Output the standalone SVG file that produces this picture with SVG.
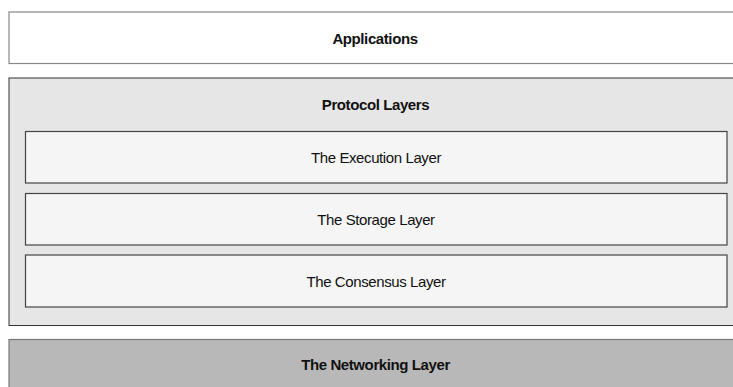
<svg xmlns="http://www.w3.org/2000/svg" width="733" height="387" viewBox="0 0 733 387">
<style>
text{font-family:"Liberation Sans",Arial,sans-serif;font-size:15px;letter-spacing:-0.4px;text-anchor:middle;fill:#111}
.b{font-weight:bold}
.app{fill:#ffffff;stroke:#888888;stroke-width:1.2}
.proto{fill:#e6e6e6;stroke:#333333;stroke-width:1}
.inner{fill:#f5f5f5;stroke:#444444;stroke-width:1.2}
.net{fill:#b8b8b8;stroke:#7a7a7a;stroke-width:1.2}
</style>
<rect width="733" height="387" fill="#ffffff"/>
<g id="applications">
<rect class="app" x="9" y="12" width="732" height="51.5"/>
<text class="b" x="375" y="43.5">Applications</text>
</g>
<g id="protocol-layers">
<rect class="proto" x="9" y="78" width="732" height="247.5"/>
<text class="b" x="375.5" y="109.5">Protocol Layers</text>
</g>
<g id="execution-layer">
<rect class="inner" x="25.5" y="131.5" width="701.5" height="51.5"/>
<text x="376" y="162.5">The Execution Layer</text>
</g>
<g id="storage-layer">
<rect class="inner" x="25.5" y="193.5" width="701.5" height="51.5"/>
<text x="376" y="224.5">The Storage Layer</text>
</g>
<g id="consensus-layer">
<rect class="inner" x="25.5" y="255" width="701.5" height="52"/>
<text x="376" y="286.5">The Consensus Layer</text>
</g>
<g id="networking-layer">
<rect class="net" x="9" y="339.5" width="732" height="52"/>
<text class="b" x="375.5" y="369.5">The Networking Layer</text>
</g>
<g id="connectors"></g>
</svg>
